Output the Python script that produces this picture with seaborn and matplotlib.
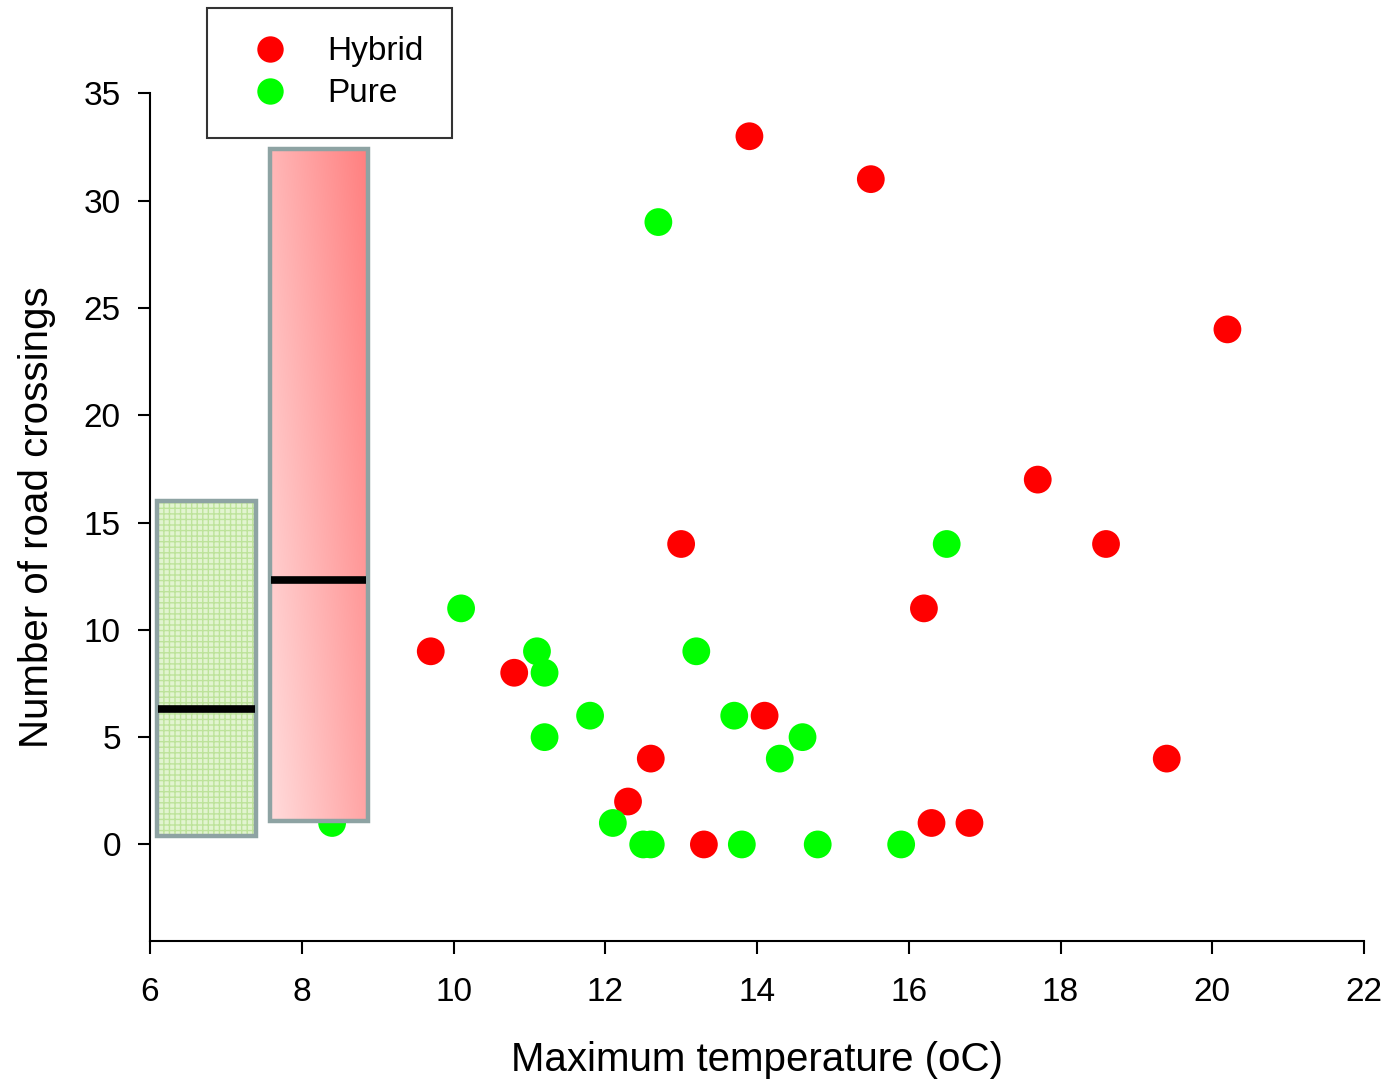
import matplotlib.pyplot as plt
import matplotlib.patches as mpatches
import numpy as np
import pandas as pd
import seaborn as sns

# data
hybrid_temp = [13.9, 15.5, 20.2, 17.7, 18.6, 13.0, 16.2, 9.7, 10.8, 14.1, 12.6, 19.4, 12.3, 16.3, 16.8, 13.3]
hybrid_cross = [33, 31, 24, 17, 14, 14, 11, 9, 8, 6, 4, 4, 2, 1, 1, 0]
pure_temp = [12.7, 16.5, 10.1, 11.1, 13.2, 11.2, 11.8, 13.7, 11.2, 14.6, 14.3, 12.1, 8.4, 12.5, 12.6, 13.8, 14.8, 15.9]
pure_cross = [29, 14, 11, 9, 9, 8, 6, 6, 5, 5, 4, 1, 1, 0, 0, 0, 0, 0]

# summary boxes (Pure, Hybrid)
box_names = ['Pure', 'Hybrid']
box_x0 = [6.09, 7.58]
box_x1 = [7.40, 8.87]
box_low = [0.4, 1.1]
box_high = [16.0, 32.4]
box_median = [6.3, 12.3]

df = pd.DataFrame({
    'temp': hybrid_temp + pure_temp,
    'cross': hybrid_cross + pure_cross,
    'group': ['Hybrid'] * len(hybrid_temp) + ['Pure'] * len(pure_temp),
})

sns.set_style('white')
plt.rcParams['font.family'] = ['Liberation Sans', 'DejaVu Sans']
plt.rcParams['text.color'] = 'black'
plt.rcParams['axes.labelcolor'] = 'black'
plt.rcParams['xtick.color'] = 'black'
plt.rcParams['ytick.color'] = 'black'

fig = plt.figure(figsize=(13.89, 10.85), dpi=100)
ax = fig.add_axes([0.108, 0.1327, 0.874, 0.7813])

sns.scatterplot(data=df, x='temp', y='cross', hue='group', palette={'Hybrid': '#ff0000', 'Pure': '#00ff00'},
                s=400, edgecolor='none', ax=ax, zorder=2, legend=False)

edge = '#8ea3a3'
# green hatched box
i = 0
ax.add_patch(mpatches.Rectangle((box_x0[i], box_low[i]), box_x1[i] - box_x0[i], box_high[i] - box_low[i],
                                facecolor='#e2f4d0', edgecolor='#bde39a', hatch='+++', lw=0, zorder=3))
ax.add_patch(mpatches.Rectangle((box_x0[i], box_low[i]), box_x1[i] - box_x0[i], box_high[i] - box_low[i],
                                facecolor='none', edgecolor=edge, lw=3.2, zorder=4))
# red gradient box
i = 1
rect = mpatches.Rectangle((box_x0[i], box_low[i]), box_x1[i] - box_x0[i], box_high[i] - box_low[i],
                          facecolor='none', edgecolor=edge, lw=3.2, zorder=4)
ax.add_patch(rect)
gx, gy = np.meshgrid(np.linspace(0, 1, 50), np.linspace(0, 1, 200))
t = 0.6 * gx + 0.4 * gy
c0 = np.array([1.0, 0.86, 0.86])
c1 = np.array([1.0, 0.50, 0.50])
img = c0[None, None, :] * (1 - t[..., None]) + c1[None, None, :] * t[..., None]
im = ax.imshow(img, extent=(box_x0[i], box_x1[i], box_low[i], box_high[i]), origin='lower',
               aspect='auto', zorder=3, interpolation='bilinear')
im.set_clip_path(rect)

for j in range(2):
    ax.plot([box_x0[j] + 0.02, box_x1[j] - 0.02], [box_median[j], box_median[j]], color='black', lw=5.5,
            solid_capstyle='butt', zorder=5)

ax.set_xlim(6, 22)
ax.set_ylim(-4.5, 35)
ax.set_xticks(range(6, 23, 2))
ax.set_yticks(range(0, 36, 5))
for s in ['top', 'right']:
    ax.spines[s].set_visible(False)
for s in ['left', 'bottom']:
    ax.spines[s].set_color('black')
    ax.spines[s].set_linewidth(1.5)
ax.tick_params(axis='both', which='major', direction='out', length=9, width=1.5, color='black',
               labelsize=24, labelcolor='black', left=True, bottom=True)
ax.tick_params(axis='x', pad=17)
ax.tick_params(axis='y', pad=12)
ax.set_xlabel('Maximum temperature (oC)', fontsize=29, labelpad=24, color='black')
ax.set_ylabel('Number of road crossings', fontsize=29, labelpad=20, color='black')

handles = [plt.Line2D([], [], marker='o', ls='none', markersize=19, markerfacecolor=c, markeredgecolor='none')
           for c in ['#ff0000', '#00ff00']]
leg = fig.legend(handles, ['Hybrid', 'Pure'], loc='upper left', bbox_to_anchor=(0.149, 0.9926),
                 fontsize=24, frameon=True, fancybox=False, borderpad=0.85, handletextpad=0.67,
                 labelspacing=0.33, borderaxespad=0, handlelength=2.1)
leg.get_frame().set_edgecolor('black')
leg.get_frame().set_linewidth(1.5)
for txt in leg.get_texts():
    txt.set_color('black')

fig.savefig('out.png', dpi=100)
